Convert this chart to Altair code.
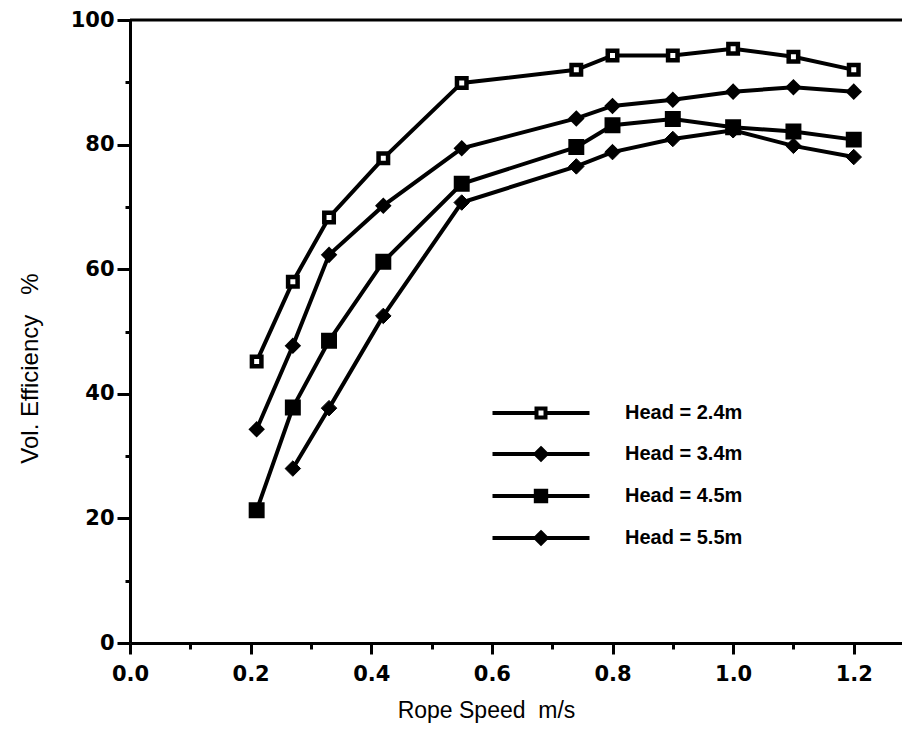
import altair as alt
import pandas as pd

# ---- data ----
speed = [0.21, 0.27, 0.33, 0.42, 0.55, 0.74, 0.80, 0.90, 1.00, 1.10, 1.20]
head_24 = [45.2, 58.0, 68.3, 77.8, 89.9, 92.0, 94.3, 94.3, 95.4, 94.1, 92.0]
head_34 = [34.3, 47.7, 62.3, 70.2, 79.4, 84.2, 86.2, 87.2, 88.5, 89.2, 88.5]
head_45 = [21.3, 37.8, 48.5, 61.2, 73.7, 79.6, 83.1, 84.1, 82.8, 82.1, 80.8]
head_55 = [None, 28.0, 37.7, 52.5, 70.7, 76.5, 78.8, 80.9, 82.3, 79.8, 78.0]

series_names = ["Head = 2.4m", "Head = 3.4m", "Head = 4.5m", "Head = 5.5m"]
x_ticks = [0.0, 0.1, 0.2, 0.3, 0.4, 0.5, 0.6, 0.7, 0.8, 0.9, 1.0, 1.1, 1.2]
y_ticks = [0, 10, 20, 30, 40, 50, 60, 70, 80, 90, 100]

rows = []
for name, vals in zip(series_names, [head_24, head_34, head_45, head_55]):
    for s, v in zip(speed, vals):
        if v is not None:
            rows.append({"speed": s, "eff": v, "series": name})
df = pd.DataFrame(rows)

# ---- styling ----
plot_shapes = ["square", "diamond", "square", "diamond"]
plot_fills = ["white", "black", "black", "black"]
plot_sizes = [90, 240, 190, 240]
plot_strokes = [4.5, 1, 1, 1]

legend_paths = [
    "M-4.85,0L-0.45,0M0.45,0L4.85,0M-0.45,-0.45L0.45,-0.45L0.45,0.45L-0.45,0.45Z",
    "M-4.85,0L4.85,0M0,-0.55L0.55,0L0,0.55L-0.55,0Z",
    "M-4.85,0L4.85,0M-0.52,-0.52L0.52,-0.52L0.52,0.52L-0.52,0.52Z",
    "M-4.85,0L4.85,0M0,-0.55L0.55,0L0,0.55L-0.55,0Z",
]

FONT = "Liberation Sans"
TICK_FONT = "DejaVu Sans"

x_scale = alt.Scale(domain=[0, 1.28], nice=False, zero=False)
y_scale = alt.Scale(domain=[0, 100], nice=False)

x_axis = alt.Axis(
    values=x_ticks,
    labelExpr="round(datum.value*10) % 2 === 0 ? format(datum.value, '.1f') : ''",
    tickSize={"condition": {"test": "round(datum.value*10) % 2 === 0", "value": 11}, "value": 6},
    tickWidth=3, tickColor="black", domainWidth=3, domainColor="black",
    labelFont=TICK_FONT, labelFontWeight="bold", labelFontSize=21, labelColor="black",
    labelPadding=9, labelFlush=False, labelOverlap=False, grid=False,
    title="Rope Speed\u00a0\u00a0m/s", titleFont=FONT, titleFontSize=23, titleFontWeight="normal",
    titleColor="black", titleX=356, titleY=67, titleBaseline="middle", titleAlign="center",
)
y_axis = alt.Axis(
    values=y_ticks,
    labelExpr="datum.value % 20 === 0 ? datum.label : ''",
    tickSize={"condition": {"test": "datum.value % 20 === 0", "value": 13}, "value": 5},
    tickWidth=3, tickColor="black", domainWidth=3, domainColor="black",
    labelFont=TICK_FONT, labelFontWeight="bold", labelFontSize=21, labelColor="black",
    labelPadding=3, labelOverlap=False, grid=False,
    title="Vol. Efficiency\u00a0\u00a0\u00a0%", titleFont=FONT, titleFontSize=24, titleFontWeight="normal",
    titleColor="black", titleX=-100, titleY=348, titleBaseline="middle", titleAlign="center",
)

base = alt.Chart(df)

lines = base.mark_line(color="black", strokeWidth=4).encode(
    x=alt.X("speed:Q", scale=x_scale, axis=x_axis),
    y=alt.Y("eff:Q", scale=y_scale, axis=y_axis),
    detail="series:N",
)

points = base.mark_point(filled=True, stroke="black", opacity=1).encode(
    x=alt.X("speed:Q", scale=x_scale),
    y=alt.Y("eff:Q", scale=y_scale),
    shape=alt.Shape("series:N", scale=alt.Scale(domain=series_names, range=plot_shapes), legend=None),
    fill=alt.Fill("series:N", scale=alt.Scale(domain=series_names, range=plot_fills), legend=None),
    size=alt.Size("series:N", scale=alt.Scale(domain=series_names, range=plot_sizes), legend=None),
    strokeWidth=alt.StrokeWidth("series:N", scale=alt.Scale(domain=series_names, range=plot_strokes), legend=None),
)

def make_legend():
    return alt.Legend(
        title=None, orient="none", legendX=399, legendY=381, padding=0,
        symbolSize=400, symbolStrokeWidth=4, symbolStrokeColor="black",
        labelFont=FONT, labelFontSize=20, labelFontWeight="bold", labelColor="black",
        labelOffset=72, rowPadding=14, labelLimit=300,
    )

legend_layer = base.transform_filter("false").mark_point(
    filled=True, strokeWidth=4, opacity=1
).encode(
    x=alt.X("speed:Q", scale=x_scale),
    y=alt.Y("eff:Q", scale=y_scale),
    shape=alt.Shape("series:N", scale=alt.Scale(domain=series_names, range=legend_paths), legend=make_legend()),
    fill=alt.Fill("series:N", scale=alt.Scale(domain=series_names, range=plot_fills), legend=make_legend()),
    stroke=alt.Stroke("series:N", scale=alt.Scale(domain=series_names, range=["black"] * 4), legend=make_legend()),
)

top_rule = alt.Chart(pd.DataFrame({"top": [100]})).mark_rule(color="black", strokeWidth=3).encode(
    y=alt.Y("top:Q", scale=y_scale)
)

chart = (
    alt.layer(lines, points, legend_layer, top_rule)
    .resolve_scale(shape="independent", fill="independent", size="independent",
                   strokeWidth="independent", stroke="independent")
    .properties(
        width=772, height=623,
        autosize=alt.AutoSizeParams(type="none"),
        padding={"left": 130, "top": 20, "right": 0, "bottom": 107},
        background="white",
    )
    .configure_view(stroke=None)
)

chart.save("out.html", embed_options={"renderer": "svg", "actions": False})
